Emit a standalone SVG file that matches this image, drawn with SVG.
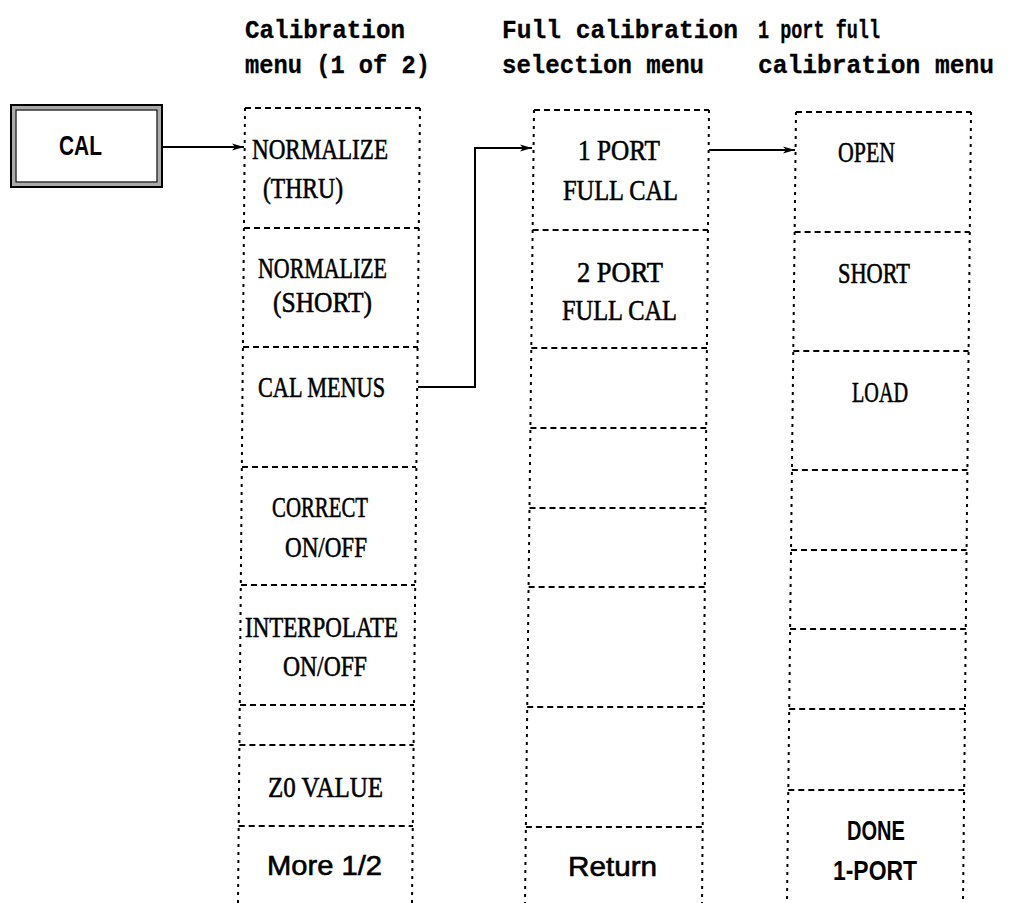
<svg xmlns="http://www.w3.org/2000/svg" width="1018" height="903" viewBox="0 0 1018 903">
<style>
.hd{font-family:"Liberation Mono","DejaVu Sans Mono",monospace;font-size:25px;font-weight:bold;fill:#000;stroke:#000;stroke-width:0.3}
.sf{font-family:"Liberation Serif","DejaVu Serif",serif;font-size:30px;fill:#000;stroke:#000;stroke-width:0.6}
.ss{font-family:"Liberation Sans","DejaVu Sans",sans-serif;font-size:27px;fill:#000;stroke:#000;stroke-width:0.6}
.sb{font-family:"Liberation Sans","DejaVu Sans",sans-serif;font-size:27px;font-weight:bold;fill:#000}
.hl{stroke:#000;stroke-width:2;stroke-dasharray:6 4;fill:none}
.vl{stroke:#000;stroke-width:2;stroke-dasharray:3 5;fill:none}
.cn{stroke:#000;stroke-width:2;fill:none}
</style>
<defs>
<marker id="arr" markerUnits="userSpaceOnUse" markerWidth="14" markerHeight="8" refX="12" refY="4" orient="auto">
<path d="M0,0.5 L12,4 L0,7.5 L3,4 z" fill="#000"/>
</marker>
</defs>

<g id="headers">
<text class="hd" x="245" y="38" textLength="160" lengthAdjust="spacingAndGlyphs">Calibration</text>
<text class="hd" x="245" y="73" textLength="185" lengthAdjust="spacingAndGlyphs">menu (1 of 2)</text>
<text class="hd" x="502" y="38" textLength="236" lengthAdjust="spacingAndGlyphs">Full calibration</text>
<text class="hd" x="502" y="73" textLength="202" lengthAdjust="spacingAndGlyphs">selection menu</text>
<text class="hd" x="758" y="38" textLength="122" lengthAdjust="spacingAndGlyphs">1 port full</text>
<text class="hd" x="758" y="73" textLength="236" lengthAdjust="spacingAndGlyphs">calibration menu</text>
</g>

<g id="cal">
<rect x="13.5" y="107.5" width="146" height="77" fill="none" stroke="#aaa" stroke-width="4"/>
<rect x="11" y="105" width="151" height="82" fill="none" stroke="#000" stroke-width="2"/>
<rect x="16" y="110" width="141" height="72" fill="none" stroke="#000" stroke-width="1.2"/>
<text class="sb" x="59" y="155" textLength="43" lengthAdjust="spacingAndGlyphs">CAL</text>
</g>

<g id="calibration-menu">
<path class="hl" d="M245,108 H420 M244,228 H419 M243,347 H418 M242,467 H416 M241,585 H415 M240,705 H414 M239.4,745 H413.6 M238.7,826 H413"/>
<path class="vl" d="M245,108 L238,903 M420,108 L412,903"/>
<text class="sf" x="252" y="159" textLength="136" lengthAdjust="spacingAndGlyphs">NORMALIZE</text>
<text class="sf" x="263" y="198" textLength="80" lengthAdjust="spacingAndGlyphs">(THRU)</text>
<text class="sf" x="258" y="278" textLength="129" lengthAdjust="spacingAndGlyphs">NORMALIZE</text>
<text class="sf" x="273" y="312" textLength="99" lengthAdjust="spacingAndGlyphs">(SHORT)</text>
<text class="sf" x="258" y="397" textLength="127" lengthAdjust="spacingAndGlyphs">CAL MENUS</text>
<text class="sf" x="272" y="517" textLength="96" lengthAdjust="spacingAndGlyphs">CORRECT</text>
<text class="sf" x="285" y="557" textLength="82" lengthAdjust="spacingAndGlyphs">ON/OFF</text>
<text class="sf" x="245" y="637" textLength="153" lengthAdjust="spacingAndGlyphs">INTERPOLATE</text>
<text class="sf" x="283" y="676" textLength="84" lengthAdjust="spacingAndGlyphs">ON/OFF</text>
<text class="sf" x="268" y="797" textLength="115" lengthAdjust="spacingAndGlyphs">Z0 VALUE</text>
<text class="ss" x="267" y="875" textLength="115" lengthAdjust="spacingAndGlyphs">More 1/2</text>
</g>

<g id="full-calibration-selection-menu">
<path class="hl" d="M534,110 H709 M532.6,230 H708 M531.3,348 H707 M530.4,428 H706.2 M529.5,508 H705.5 M528.6,587 H704.8 M527.2,707 H703.7 M525.9,827 H702.7"/>
<path class="vl" d="M534,110 L525,903 M709,110 L702,903"/>
<text class="sf" x="578" y="160" textLength="82" lengthAdjust="spacingAndGlyphs">1 PORT</text>
<text class="sf" x="563" y="200" textLength="115" lengthAdjust="spacingAndGlyphs">FULL CAL</text>
<text class="sf" x="577" y="282" textLength="86" lengthAdjust="spacingAndGlyphs">2 PORT</text>
<text class="sf" x="562" y="320" textLength="115" lengthAdjust="spacingAndGlyphs">FULL CAL</text>
<text class="ss" x="568" y="876" textLength="89" lengthAdjust="spacingAndGlyphs">Return</text>
</g>

<g id="one-port-full-calibration-menu">
<path class="hl" d="M796,112 H971 M794.6,232 H969.8 M793.3,351 H968.6 M791.9,470 H967.4 M791,550 H966.6 M790.1,629 H965.8 M789.2,709 H965 M788.3,790 H964.1"/>
<path class="vl" d="M796,112 L787,903 M971,112 L963,903"/>
<text class="sf" x="838" y="162" textLength="57" lengthAdjust="spacingAndGlyphs">OPEN</text>
<text class="sf" x="838" y="283" textLength="72" lengthAdjust="spacingAndGlyphs">SHORT</text>
<text class="sf" x="852" y="402" textLength="56" lengthAdjust="spacingAndGlyphs">LOAD</text>
<text class="sb" x="847" y="840" textLength="58" lengthAdjust="spacingAndGlyphs">DONE</text>
<text class="sb" x="833" y="880" textLength="84" lengthAdjust="spacingAndGlyphs">1-PORT</text>
</g>

<g id="connectors">
<path class="cn" d="M162,147 H244" marker-end="url(#arr)"/>
<path class="cn" d="M418,387 H475 V148 H532" marker-end="url(#arr)"/>
<path class="cn" d="M709,150 H795" marker-end="url(#arr)"/>
</g>
</svg>
